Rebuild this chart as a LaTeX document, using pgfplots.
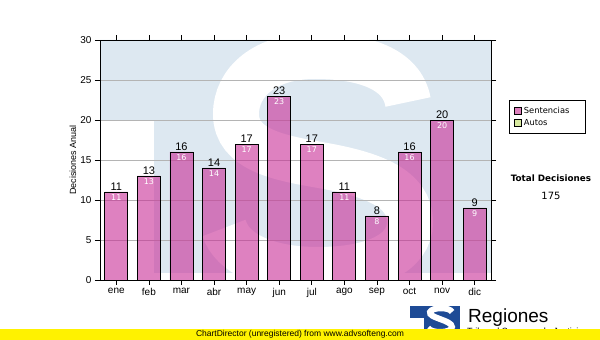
\documentclass[border=0pt]{standalone}
\usepackage{pgfplots}
\pgfplotsset{compat=1.18}
\usepackage{fontspec}
\setmainfont{Liberation Sans}
\newfontfamily\dejavu{DejaVu Sans}
\definecolor{wmblue}{RGB}{221,232,241}
\definecolor{gridgray}{RGB}{180,180,180}
\definecolor{barpink}{RGB}{200,45,150}
\definecolor{legpink}{RGB}{222,128,190}
\definecolor{autosgreen}{RGB}{216,234,160}
\definecolor{logoblue}{RGB}{30,75,150}
\begin{document}
\begin{tikzpicture}[x=1pt,y=1pt]
\useasboundingbox (0,0) rectangle (600,340);
\fill[white] (0,0) rectangle (600,340);
% watermark
\begin{scope}
\clip (100,60) rectangle (491,300);
\fill[wmblue] (100,300) -- (491,300) -- (491,67) -- (154,67) -- (154,220) -- (100,220) -- cycle;
\draw[white, line width=46pt, line cap=butt]
  (408,238) .. controls (402,272) and (362,284) .. (315,284)
  .. controls (265,284) and (236,258) .. (236,226)
  .. controls (236,190) and (280,182) .. (320,175)
  .. controls (372,166) and (410,152) .. (410,118)
  .. controls (410,86) and (372,70) .. (318,70)
  .. controls (268,70) and (232,86) .. (224,112);
\end{scope}
\begin{axis}[
  at={(100pt,60pt)}, anchor=south west,
  scale only axis, width=391pt, height=240pt,
  xmin=-0.5, xmax=11.5, ymin=0, ymax=30,
  ytick={0,5,...,30},
  xtick={0,...,11},
  xticklabels={ene,feb,mar,abr,may,jun,jul,ago,sep,oct,nov,dic},
  ymajorgrids, grid style={gridgray, line width=0.8pt},
  tick align=outside, tick style={black, line width=0.6pt},
  major tick length=5pt,
  axis line style={black, line width=0.8pt},
  /pgf/number format/assume math mode=true,
  tick label style={font=\fontsize{10}{12}\selectfont},
  ylabel={Decisiones Anual},
  every axis y label/.style={at={(axis description cs:-0.069,0.5)}, rotate=90, anchor=center, font=\fontsize{9}{11}\selectfont},
  legend style={at={(axis description cs:1.046,0.75)}, anchor=north west, draw=black, line width=0.6pt,
    font=\dejavu\fontsize{8.3}{10}\selectfont, cells={anchor=west}, inner xsep=5pt, inner ysep=5pt, row sep=0pt,
    text width=54pt},
  legend image code/.code={\draw[#1, line width=0.6pt] (0pt,-3.5pt) rectangle (7pt,3.5pt);},
]
\addplot[ybar, bar width=23pt, fill=barpink, fill opacity=0.6, draw=black, line width=0.8pt, forget plot,
  nodes near coords, nodes near coords style={text=black, text opacity=1, font=\fontsize{11}{12}\selectfont, inner sep=1pt, /pgf/number format/assume math mode=true}]
  coordinates {(0,11) (1,13) (2,16) (3,14) (4,17) (5,23) (6,17) (7,11) (8,8) (9,16) (10,20) (11,9)};
\addplot[draw=none, mark=none, forget plot,
  nodes near coords, nodes near coords style={text=white, anchor=north, yshift=-1.5pt, font=\dejavu\fontsize{8}{9}\selectfont, inner sep=1pt, /pgf/number format/assume math mode=true}]
  coordinates {(0,11) (1,13) (2,16) (3,14) (4,17) (5,23) (6,17) (7,11) (8,8) (9,16) (10,20) (11,9)};
\addlegendimage{fill=legpink, draw=black}
\addlegendentry{Sentencias}
\addlegendimage{fill=autosgreen, draw=black}
\addlegendentry{Autos}
\end{axis}
\node[font=\dejavu\bfseries\fontsize{8.8}{10}\selectfont] at (551,162) {Total Decisiones};
\node[font=\dejavu\fontsize{10}{12}\selectfont] at (551,144) {175};
% logo
\fill[logoblue] (410,34) rectangle (460,5);
\fill[white] (410,22) rectangle (424,5);
\draw[white, line width=6pt, line cap=butt]
  (452,28) .. controls (450,33) and (432,33) .. (430,28)
  .. controls (428,22) and (452,20) .. (452,13)
  .. controls (452,7) and (432,6) .. (428,12);
\node[anchor=base west, font=\fontsize{19}{22}\selectfont, inner sep=0pt] at (468,17) {Regiones};
\node[anchor=base west, font=\fontsize{9}{11}\selectfont, inner sep=0pt] at (467,5) {Tribunal Supremo de Justicia};
% yellow band
\fill[yellow] (0,0) rectangle (600,11);
\node[font=\fontsize{8.5}{10}\selectfont, inner sep=0pt] at (300,5.5) {ChartDirector (unregistered) from www.advsofteng.com};
\end{tikzpicture}
\end{document}
